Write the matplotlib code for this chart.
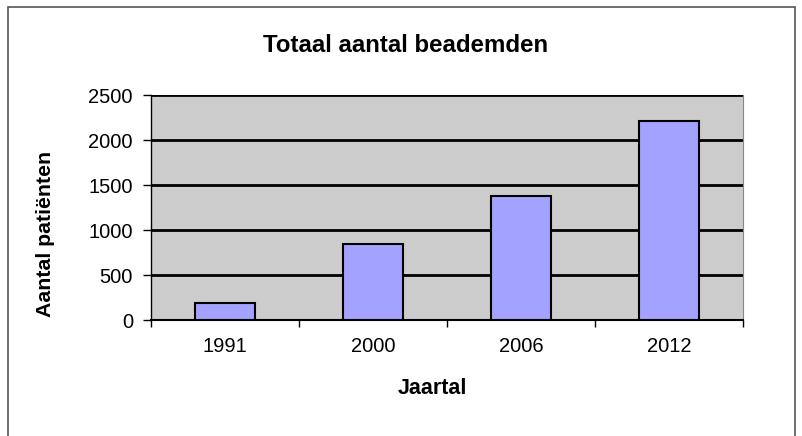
import matplotlib; matplotlib.use("Agg")
import matplotlib.pyplot as plt
from matplotlib.patches import Rectangle
import numpy as np

years = ["1991", "2000", "2006", "2012"]
patients = [190, 840, 1380, 2210]

plt.rcParams["font.family"] = ["Liberation Sans", "DejaVu Sans"]

fig = plt.figure(figsize=(8.03, 4.36), dpi=100)
# outer chart frame (bottom edge runs off the picture)
fig.patches.append(Rectangle((8/803, -0.1), 787/803, 1.1 - 7/436, transform=fig.transFigure,
                             fill=False, edgecolor="#555555", linewidth=1.2))
ax = fig.add_axes([151/803, 1-320/436, 592/803, 225/436])
ax.set_facecolor("#CCCCCC")

x = np.arange(len(years))
ax.bar(x, patients, width=0.4, color="#A3A3FF", edgecolor="black", linewidth=1.5, zorder=3)
ax.set_xlim(-0.5, len(years)-0.5)
ax.set_ylim(0, 2500)
ax.set_yticks(np.arange(0, 2501, 500))
for v in range(500, 2501, 500):
    ax.axhline(v, color="black", linewidth=2, zorder=2)

ax.set_xticks(x, years)
ax.set_xticks(np.arange(-0.5, len(years), 1), minor=True)
ax.tick_params(axis="x", which="major", length=0, pad=12, labelsize=14.5)
ax.tick_params(axis="x", which="minor", length=5, width=1)
ax.tick_params(axis="y", length=6, width=1, labelsize=14.5, pad=7)

ax.spines["top"].set_visible(False)
ax.spines["right"].set_color("#888888")
ax.spines["right"].set_linewidth(0.8)
ax.spines["left"].set_linewidth(1)
ax.spines["bottom"].set_linewidth(1.5)

fig.text(432/803, 1-388/436, "Jaartal", ha="center", va="center", fontsize=15.5, fontweight="bold")
fig.text(46/803, 1-234/436, "Aantal patiënten", ha="center", va="center", rotation=90,
         fontsize=15.3, fontweight="bold")
fig.text(406/803, 1-45/436, "Totaal aantal beademden", ha="center", va="center",
         fontsize=17.3, fontweight="bold")

fig.savefig("out.png", dpi=100)
